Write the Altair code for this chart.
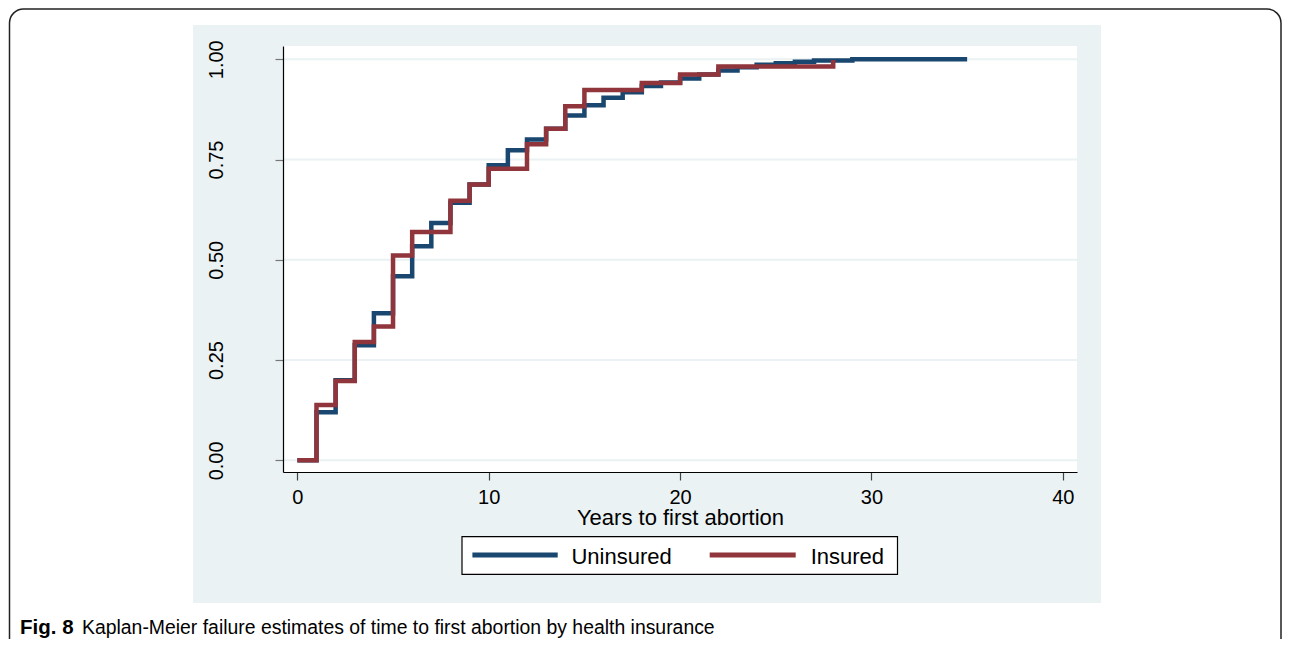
import altair as alt
import pandas as pd

# ---- data ----
groups = ["Uninsured", "Insured"]
colors = ["#1a476f", "#90353b"]

uninsured_years = [0, 1, 2, 3, 4, 5, 6, 7, 8, 9, 10, 11, 12, 13, 14, 15, 16, 17, 18, 19,
                   20, 21, 22, 23, 24, 25, 26, 27, 29, 35]
uninsured_fail = [0.0, 0.12, 0.20, 0.287, 0.367, 0.459, 0.534, 0.592, 0.642, 0.688, 0.736,
                  0.773, 0.800, 0.827, 0.860, 0.885, 0.904, 0.918, 0.933, 0.942, 0.952, 0.962,
                  0.972, 0.980, 0.986, 0.990, 0.994, 0.997, 1.0, 1.0]

insured_years = [0, 1, 2, 3, 4, 5, 6, 8, 9, 10, 12, 13, 14, 15, 18, 20, 22, 28]
insured_fail = [0.0, 0.138, 0.198, 0.295, 0.334, 0.511, 0.569, 0.647, 0.688, 0.727, 0.788,
                0.827, 0.883, 0.923, 0.941, 0.962, 0.982, 0.998]

x_ticks = [0, 10, 20, 30, 40]
y_ticks = [0.0, 0.25, 0.50, 0.75, 1.0]
x_title = "Years to first abortion"
caption_bold = "Fig. 8"
caption_text = "Kaplan-Meier failure estimates of time to first abortion by health insurance"

df = pd.concat([
    pd.DataFrame({"t": uninsured_years, "f": uninsured_fail, "g": groups[0]}),
    pd.DataFrame({"t": insured_years, "f": insured_fail, "g": groups[1]}),
], ignore_index=True)
grid_df = pd.DataFrame({"v": y_ticks})

FONT = "Liberation Sans"
W, H = 794, 426
PANEL = "#eaf2f3"

x_scale = alt.Scale(domain=[-0.75, 40.74], nice=False, zero=False)
y_scale = alt.Scale(domain=[-0.029, 1.033], nice=False, zero=False)
color_scale = alt.Scale(domain=groups, range=colors)

x_axis = alt.Axis(values=x_ticks, title=x_title, grid=False, tickSize=8, tickColor="#444",
                  tickWidth=1.2, domainColor="#000", domainWidth=1.2, labelFont=FONT,
                  labelFontSize=20, labelColor="#000", labelPadding=7, titleFont=FONT,
                  titleFontSize=22, titleFontWeight="normal", titleColor="#000",
                  titleBaseline="top", titleY=35, zindex=1, labelFlush=False)
y_axis = alt.Axis(values=y_ticks, format=".2f", title=None, grid=False, tickSize=8,
                  tickColor="#777", tickWidth=1.2, domainColor="#000", domainWidth=1.2,
                  labelFont=FONT, labelFontSize=20, labelColor="#000", labelAngle=270,
                  labelAlign="center", labelBaseline="alphabetic", labelPadding=53,
                  zindex=1, labelFlush=False)

one = alt.Data(values=[{"k": 1}])

border = alt.Chart(one).mark_rect(fill="white", stroke="#222", strokeWidth=1.5,
                                  cornerRadius=14).encode(
    x=alt.value(-273.5), x2=alt.value(998), y=alt.value(-37), y2=alt.value(620))
panel = alt.Chart(one).mark_rect(fill=PANEL).encode(
    x=alt.value(-90), x2=alt.value(818), y=alt.value(-21), y2=alt.value(557))
plotbg = alt.Chart(one).mark_rect(fill="white").encode(
    x=alt.value(0), x2=alt.value(W), y=alt.value(0), y2=alt.value(H))

grid = alt.Chart(grid_df).mark_rule(color=PANEL, strokeWidth=2).encode(
    y=alt.Y("v:Q", scale=y_scale, axis=y_axis), x=alt.value(0), x2=alt.value(W))


def km_line(name):
    return alt.Chart(df).transform_filter(alt.datum.g == name).mark_line(
        interpolate="step-after", strokeWidth=4.5, strokeJoin="miter", strokeCap="butt"
    ).encode(
        x=alt.X("t:Q", scale=x_scale, axis=x_axis),
        y=alt.Y("f:Q", scale=y_scale, axis=y_axis),
        color=alt.Color("g:N", scale=color_scale, legend=None),
    )


# ---- legend drawn by hand (box, key lines, labels) ----
leg_box = alt.Chart(one).mark_rect(fill="white", stroke="#000", strokeWidth=1.2).encode(
    x=alt.value(179), x2=alt.value(614.5), y=alt.value(490.7), y2=alt.value(528.3))
key_x = [(189.4, 274.7), (426.7, 512.7)]
lab_x = [288.4, 527.7]
legend_layers = [leg_box]
for i, name in enumerate(groups):
    legend_layers.append(
        alt.Chart(one).mark_rule(color=colors[i], strokeWidth=5, strokeCap="butt").encode(
            x=alt.value(key_x[i][0]), x2=alt.value(key_x[i][1]), y=alt.value(509)))
    legend_layers.append(
        alt.Chart(one).mark_text(align="left", baseline="alphabetic", font=FONT,
                                 fontSize=22, color="#000").encode(
            x=alt.value(lab_x[i]), y=alt.value(517.5), text=alt.value(name)))

cap1 = alt.Chart(one).mark_text(align="left", baseline="alphabetic", font=FONT,
                                fontSize=20.5, fontWeight="bold", color="#000").encode(
    x=alt.value(-263), y=alt.value(588), text=alt.value(caption_bold))
cap2 = alt.Chart(one).mark_text(align="left", baseline="alphabetic", font=FONT,
                                fontSize=19.4, color="#000").encode(
    x=alt.value(-201), y=alt.value(588), text=alt.value(caption_text))

chart = alt.layer(border, panel, plotbg, grid, km_line(groups[0]), km_line(groups[1]),
                  *legend_layers, cap1, cap2).properties(
    width=W, height=H,
    padding={"left": 275, "top": 38, "right": 205, "bottom": 167},
    autosize=alt.AutoSizeParams(type="none"),
    background="white",
).configure_view(strokeWidth=0)

chart.save("out.html", embed_options={"renderer": "svg", "actions": False})
